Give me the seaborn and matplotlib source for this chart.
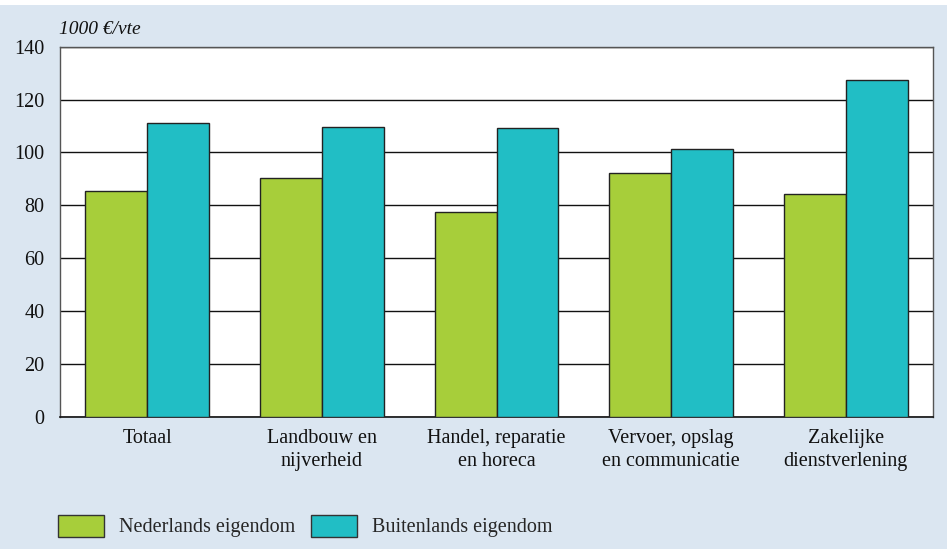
import matplotlib
matplotlib.use("Agg")
import matplotlib.pyplot as plt
import matplotlib.patches as mpatches
import pandas as pd
import seaborn as sns

# values (1000 euro per vte)
categories = [
    "Totaal",
    "Landbouw en\nnijverheid",
    "Handel, reparatie\nen horeca",
    "Vervoer, opslag\nen communicatie",
    "Zakelijke\ndienstverlening",
]
series_names = ["Nederlands eigendom", "Buitenlands eigendom"]
nederlands = [85.3, 90.4, 77.3, 92.2, 84.2]
buitenlands = [111.1, 109.8, 109.3, 101.3, 127.4]
y_ticks = [0, 20, 40, 60, 80, 100, 120, 140]
y_unit = "1000 €/vte"

GREEN = "#a7ce3a"
TEAL = "#21bec5"
BG = "#dbe6f1"
FS = 14.5

df = pd.DataFrame({
    "categorie": categories * 2,
    "eigendom": [series_names[0]] * 5 + [series_names[1]] * 5,
    "waarde": nederlands + buitenlands,
})

sns.set_theme(style="white")
plt.rcParams["font.family"] = ["Liberation Serif", "DejaVu Serif"]

fig = plt.figure(figsize=(9.47, 5.49), dpi=100, facecolor=BG)
# white strip at the very top (cut-off title area)
fig.patches.append(mpatches.Rectangle((0, 1 - 5 / 549), 1, 5 / 549,
                                      transform=fig.transFigure,
                                      facecolor="white", edgecolor="none"))
ax = fig.add_axes([60 / 947, 1 - 416.7 / 549, (933 - 60) / 947, (416.7 - 46.7) / 549])
ax.set_facecolor("white")

sns.barplot(data=df, x="categorie", y="waarde", hue="eigendom",
            palette=[GREEN, TEAL], width=0.71, saturation=1,
            edgecolor="#222222", linewidth=1.0, ax=ax, zorder=3,
            legend=False)

ax.set_ylim(0, 140)
ax.set_xlim(-0.5, len(categories) - 0.5)
ax.set_yticks(y_ticks)
ax.yaxis.grid(True, color="#111111", linewidth=1.0, zorder=0)
ax.set_axisbelow(True)
ax.tick_params(axis="both", length=0, labelsize=FS, colors="#111111")
ax.tick_params(axis="y", pad=11)
ax.tick_params(axis="x", pad=9)
for lbl in ax.get_xticklabels():
    lbl.set_linespacing(1.3)
ax.set_xlabel("")
ax.set_ylabel("")
for side in ["top", "right", "left"]:
    ax.spines[side].set_color("#555555")
    ax.spines[side].set_linewidth(1.0)
ax.spines["bottom"].set_color("#111111")
ax.spines["bottom"].set_linewidth(1.2)

fig.text(59 / 947, 1 - 30 / 549, y_unit, fontsize=14, style="italic",
         va="center", ha="left", color="#111111")

handles = [mpatches.Patch(facecolor=GREEN, edgecolor="#333333", label=series_names[0]),
           mpatches.Patch(facecolor=TEAL, edgecolor="#333333", label=series_names[1])]
fig.legend(handles=handles, loc="center left", bbox_to_anchor=(58 / 947, 1 - 526 / 549),
           ncol=2, frameon=False, fontsize=FS, handlelength=2.3, handleheight=1.3,
           handletextpad=0.75, columnspacing=0.75, borderpad=0, borderaxespad=0)

fig.savefig("out.png", dpi=100, facecolor=BG)
